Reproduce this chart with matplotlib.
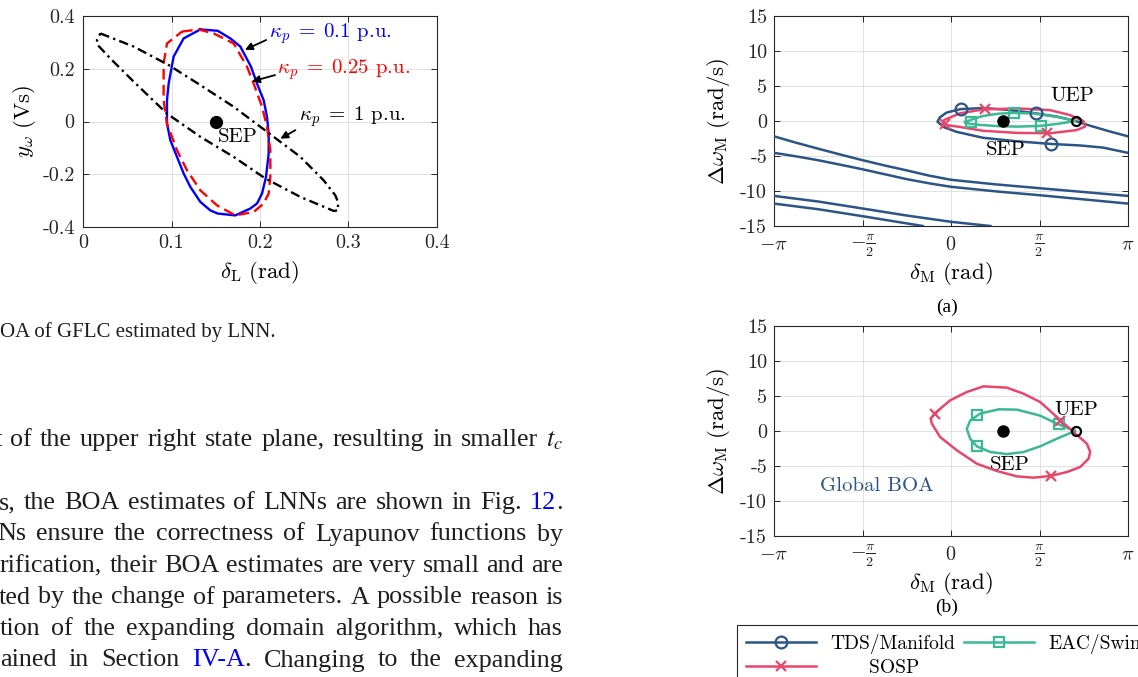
import numpy as np
import matplotlib
matplotlib.use("Agg")
import matplotlib.pyplot as plt
from matplotlib.lines import Line2D
from matplotlib.transforms import IdentityTransform

plt.rcParams["font.family"] = "cmr10"
plt.rcParams["mathtext.fontset"] = "cm"
plt.rcParams["axes.unicode_minus"] = False
plt.rcParams["axes.formatter.use_mathtext"] = True

W, H = 1138, 677
fig = plt.figure(figsize=(W / 100, H / 100), dpi=100)

# ----------------------------------------------------------------------------
# Data: BOA of the GFLC estimated by LNN for three kappa_p values
# ----------------------------------------------------------------------------
kp01_delta = [0.1326, 0.1522, 0.1665, 0.1778, 0.1898, 0.1966, 0.2041, 0.2079, 0.2098,
              0.2098, 0.2068, 0.2023, 0.1966, 0.1890, 0.1721, 0.1522, 0.1439, 0.1326,
              0.1213, 0.1137, 0.1062, 0.0987, 0.0949, 0.0949, 0.0968, 0.1024, 0.1137, 0.1326]
kp01_y = [0.349, 0.344, 0.315, 0.284, 0.208, 0.144, 0.081, 0.018, -0.046,
          -0.122, -0.210, -0.273, -0.311, -0.330, -0.356, -0.349, -0.337, -0.305,
          -0.248, -0.197, -0.134, -0.071, -0.008, 0.081, 0.144, 0.246, 0.315, 0.349]

kp025_delta = [0.1119, 0.1307, 0.1476, 0.1702, 0.1853, 0.1928, 0.2023, 0.2079, 0.2117,
               0.2117, 0.2098, 0.2041, 0.1928, 0.1721, 0.1514, 0.1326, 0.1175, 0.1062,
               0.0949, 0.0911, 0.0911, 0.0949, 0.1119]
kp025_y = [0.341, 0.349, 0.334, 0.296, 0.208, 0.144, 0.056, -0.020, -0.109,
           -0.210, -0.273, -0.311, -0.343, -0.356, -0.318, -0.261, -0.185, -0.109,
           -0.008, 0.081, 0.220, 0.296, 0.341]

kp1_delta = [0.0196, 0.0573, 0.0968, 0.1326, 0.1702, 0.2079, 0.2456, 0.2719, 0.2851,
             0.2881, 0.2881, 0.2832, 0.2456, 0.2060, 0.1702, 0.1326, 0.0949, 0.0573,
             0.0309, 0.0166, 0.0158, 0.0196]
kp1_y = [0.334, 0.284, 0.214, 0.138, 0.056, -0.039, -0.134, -0.223, -0.280,
         -0.305, -0.337, -0.339, -0.286, -0.216, -0.134, -0.058, 0.030, 0.151,
         0.239, 0.290, 0.309, 0.334]

sep_gflc = (0.15, 0.0)

# ----------------------------------------------------------------------------
# Data: SMIB phase plane, (a) and (b)
# ----------------------------------------------------------------------------
PI = np.pi
sep_m = (0.93, 0.0)
uep_m = (2.21, 0.0)

# (a) stable manifold of the UEP (TDS/Manifold), wrapped on [-pi, pi]
tds_loop_x = [PI, 2.8, 2.5, 2.21, 1.9, 1.5, 1.0, 0.58, 0.17, -0.08, -0.2, -0.24,
              -0.12, 0.1, 0.57, 1.17, 1.78, 2.3, 2.7, PI]
tds_loop_y = [-2.19, -1.45, -0.75, 0.0, 0.6, 1.1, 1.6, 1.85, 1.7, 1.2, 0.5, -0.1,
              -0.9, -1.55, -2.4, -2.9, -3.28, -3.5, -3.8, -4.55]
tds_w1_x = [-PI, -2.75, -2.36, -1.96, -1.57, -1.18, -0.79, -0.39, 0.0, 0.79, 1.57, 2.36, PI]
tds_w1_y = [-2.19, -3.1, -3.95, -4.8, -5.6, -6.35, -7.05, -7.8, -8.4, -9.05, -9.6, -10.15, -10.7]
tds_w2_x = [-PI, -2.75, -2.36, -1.96, -1.57, -1.18, -0.79, -0.39, 0.0, 0.79, 1.57, 2.36, PI]
tds_w2_y = [-4.55, -5.05, -5.6, -6.25, -6.9, -7.6, -8.3, -8.9, -9.4, -10.05, -10.6, -11.2, -11.8]
tds_w3_x = [-PI, -2.36, -1.57, -0.79, 0.0, 0.7]
tds_w3_y = [-10.7, -11.5, -12.5, -13.5, -14.4, -15.0]
tds_w4_x = [-PI, -2.36, -1.57, -0.5]
tds_w4_y = [-11.8, -12.6, -13.6, -15.0]
tds_mark_x = [0.17, 1.5, 1.78]
tds_mark_y = [1.7, 1.1, -3.28]

# (a) EAC/Swing estimate
eac_a_x = [0.25, 0.4, 0.57, 0.85, 1.1, 1.46, 1.93, 2.21, 1.9, 1.58, 1.2, 0.87, 0.5, 0.3, 0.25]
eac_a_y = [-0.15, 0.3, 0.72, 1.05, 1.15, 1.08, 0.52, 0.0, -0.4, -0.7, -0.8, -0.75, -0.55, -0.35, -0.15]
eac_a_mark_x = [0.36, 1.11, 1.59]
eac_a_mark_y = [-0.2, 1.12, -0.78]

# (a) SOSP estimate
sosp_a_x = [-0.15, -0.12, 0.16, 0.57, 1.17, 1.76, 2.11, 2.35, 2.38, 2.23, 1.76, 1.17, 0.57, 0.16, -0.15]
sosp_a_y = [-0.5, 0.15, 1.1, 1.65, 1.8, 1.55, 0.85, 0.0, -0.8, -1.3, -1.75, -1.7, -1.4, -0.85, -0.5]
sosp_a_mark_x = [0.6, -0.1, 1.7]
sosp_a_mark_y = [1.78, -0.45, -1.78]

# (b) EAC/Swing estimate
eac_b_x = [2.2, 1.88, 1.58, 1.17, 0.85, 0.52, 0.34, 0.28, 0.34, 0.46, 0.7, 0.99, 1.29, 1.58, 1.88, 2.2]
eac_b_y = [0.0, 1.05, 2.2, 3.05, 3.1, 2.5, 1.5, 0.3, -1.1, -2.2, -3.0, -3.3, -3.0, -2.2, -1.1, 0.0]
eac_b_mark_x = [0.47, 0.47, 1.91]
eac_b_mark_y = [2.24, -2.19, 1.05]

# (b) SOSP estimate
sosp_b_x = [-0.294, -0.015, 0.28, 0.577, 0.991, 1.287, 1.583, 1.879, 2.175, 2.412, 2.471,
            2.442, 2.294, 2.057, 1.761, 1.465, 1.169, 0.813, 0.458, 0.103, -0.193,
            -0.341, -0.358, -0.294]
sosp_b_y = [2.48, 4.38, 5.57, 6.38, 6.19, 5.33, 4.14, 2.0, -0.14, -1.81, -3.0,
            -3.95, -5.14, -5.86, -6.43, -6.67, -6.48, -5.71, -4.67, -2.76, -0.86,
            1.05, 1.76, 2.48]
sosp_b_mark_x = [-0.29, 1.93, 1.78]
sosp_b_mark_y = [2.48, 1.4, -6.43]

C_TDS = "#2c5487"
C_EAC = "#3bb994"
C_SOSP = "#e8476d"
AX_COL = "#262626"


def px_axes(left, top, right, bottom):
    return fig.add_axes([left / W, 1 - bottom / H, (right - left) / W, (bottom - top) / H])


def style(ax):
    ax.tick_params(direction="in", top=True, right=True, length=4.5, width=0.7,
                   color=AX_COL, labelsize=14.5, labelcolor=AX_COL)
    for s in ax.spines.values():
        s.set_color(AX_COL)
        s.set_linewidth(0.8)
    ax.grid(True, color="#dcdcdc", lw=0.6)
    ax.set_axisbelow(True)


# ----------------------------------------------------------------------------
# Left: GFLC BOA
# ----------------------------------------------------------------------------
ax0 = px_axes(83, 16, 437, 227)
style(ax0)
ax0.plot(kp01_delta, kp01_y, color="#0000ff", lw=1.7, zorder=3)
ax0.plot(kp025_delta, kp025_y, color="#ff0000", lw=1.7, ls=(0, (4.5, 2.3)), zorder=3)
ax0.plot(kp1_delta, kp1_y, color="k", lw=1.7, ls=(0, (4.0, 1.8, 1.0, 1.8)), zorder=3)
ax0.plot(*sep_gflc, "o", color="k", ms=8.5, zorder=4)
ax0.text(0.152, -0.058, "SEP", fontsize=15, va="center", ha="left")
ax0.set_xlim(0, 0.4)
ax0.set_ylim(-0.4, 0.4)
ax0.set_xticks([0, 0.1, 0.2, 0.3, 0.4])
ax0.set_xticklabels(["0", "0.1", "0.2", "0.3", "0.4"])
ax0.set_yticks([-0.4, -0.2, 0, 0.2, 0.4])
ax0.set_yticklabels(["-0.4", "-0.2", "0", "0.2", "0.4"])
ax0.tick_params(axis="x", pad=5)
ax0.tick_params(axis="y", pad=6)
ax0.set_xlabel(r"$\delta_{\mathrm{L}}\ \mathrm{(rad)}$", fontsize=16.5, va="center")
ax0.xaxis.set_label_coords(0.5, -0.215)
ax0.set_ylabel(r"$y_{\omega}\ \mathrm{(Vs)}$", fontsize=16.5, va="center")
ax0.yaxis.set_label_coords(-0.165, 0.5)

labels_kp = [
    (r"$\kappa_p\;=\;0.1$ p.u.", "#0000ff", (0.2098, 0.334), (0.207, 0.309), (0.183, 0.272)),
    (r"$\kappa_p\;=\;0.25$ p.u.", "#ff0000", (0.219, 0.195), (0.217, 0.176), (0.191, 0.152)),
    (r"$\kappa_p\;=\;1$ p.u.", "k", (0.2437, 0.018), (0.240, -0.033), (0.223, -0.065)),
]
for txt, col, pos, tail, head in labels_kp:
    ax0.text(pos[0], pos[1], txt, color=col, fontsize=15, va="center", ha="left")
    ax0.annotate("", xy=head, xytext=tail,
                 arrowprops=dict(arrowstyle="-|>", color="k", lw=1.3,
                                 mutation_scale=11, shrinkA=0, shrinkB=0))


# ----------------------------------------------------------------------------
# Right: SMIB phase planes
# ----------------------------------------------------------------------------
def phase_axes(top, bottom):
    ax = px_axes(774, top, 1128, bottom)
    style(ax)
    ax.set_xlim(-PI, PI)
    ax.set_ylim(-15, 15)
    ax.set_xticks([-PI, -PI / 2, 0, PI / 2, PI])
    ax.set_xticklabels([r"$-\pi$", r"$-\frac{\pi}{2}$", r"$0$", r"$\frac{\pi}{2}$", r"$\pi$"])
    for lab in ax.get_xticklabels():
        lab.set_va("center")
    ax.tick_params(axis="x", pad=14)
    ax.set_yticks([-15, -10, -5, 0, 5, 10, 15])
    ax.set_yticklabels(["-15", "-10", "-5", "0", "5", "10", "15"])
    ax.tick_params(axis="y", pad=5)
    ax.set_xlabel(r"$\delta_{\mathrm{M}}\ \mathrm{(rad)}$", fontsize=16.5, va="center")
    ax.xaxis.set_label_coords(0.5, -0.225)
    ax.set_ylabel(r"$\Delta\omega_{\mathrm{M}}\ \mathrm{(rad/s)}$", fontsize=16.5, va="center")
    ax.yaxis.set_label_coords(-0.158, 0.5)
    return ax


LW = 1.8
axa = phase_axes(16, 226)
for xs, ys in [(tds_loop_x, tds_loop_y), (tds_w1_x, tds_w1_y), (tds_w2_x, tds_w2_y),
               (tds_w3_x, tds_w3_y), (tds_w4_x, tds_w4_y)]:
    axa.plot(xs, ys, color=C_TDS, lw=LW, zorder=3)
axa.plot(tds_mark_x, tds_mark_y, "o", mfc="none", mec=C_TDS, ms=8.5, mew=1.6, zorder=5)
axa.plot(eac_a_x, eac_a_y, color=C_EAC, lw=LW, zorder=3)
axa.plot(eac_a_mark_x, eac_a_mark_y, "s", mfc="none", mec=C_EAC, ms=7.5, mew=1.6, zorder=5)
axa.plot(sosp_a_x, sosp_a_y, color=C_SOSP, lw=LW, zorder=4)
axa.plot(sosp_a_mark_x, sosp_a_mark_y, "x", color=C_SOSP, ms=7.5, mew=1.6, zorder=5)
axa.plot(*sep_m, "o", color="k", ms=8, zorder=6)
axa.plot(*uep_m, "o", mfc="none", mec="k", ms=6.5, mew=1.6, zorder=6)
axa.text(0.62, -4.1, "SEP", fontsize=15, va="center", ha="left")
axa.text(1.77, 3.5, "UEP", fontsize=15, va="center", ha="left")

axb = phase_axes(326, 536)
axb.plot(eac_b_x, eac_b_y, color=C_EAC, lw=LW, zorder=3)
axb.plot(eac_b_mark_x, eac_b_mark_y, "s", mfc="none", mec=C_EAC, ms=7.5, mew=1.6, zorder=5)
axb.plot(sosp_b_x, sosp_b_y, color=C_SOSP, lw=LW, zorder=4)
axb.plot(sosp_b_mark_x, sosp_b_mark_y, "x", color=C_SOSP, ms=7.5, mew=1.6, zorder=5)
axb.plot(*sep_m, "o", color="k", ms=8, zorder=6)
axb.plot(*uep_m, "o", mfc="none", mec="k", ms=6.5, mew=1.6, zorder=6)
axb.text(0.69, -4.85, "SEP", fontsize=15, va="center", ha="left")
axb.text(1.84, 3.0, "UEP", fontsize=15, va="center", ha="left")
axb.text(-2.33, -7.85, "Global BOA", fontsize=15, va="center", ha="left", color=C_TDS)

SERIF = "Liberation Serif"
px = IdentityTransform()
fig.text(947, H - 307, "(a)", transform=px, fontsize=14, family=SERIF, ha="center", va="center")
fig.text(947, H - 607, "(b)", transform=px, fontsize=14, family=SERIF, ha="center", va="center")

handles = [
    Line2D([], [], color=C_TDS, lw=LW, marker="o", mfc="none", mec=C_TDS, ms=8.5, mew=1.6),
    Line2D([], [], color=C_SOSP, lw=LW, marker="x", ms=7.5, mew=1.6),
    Line2D([], [], color=C_EAC, lw=LW, marker="s", mfc="none", mec=C_EAC, ms=7.5, mew=1.6),
]
leg = fig.legend(handles, ["TDS/Manifold", "      SOSP", "EAC/Swing"], ncol=2,
                 loc="upper left", bbox_to_anchor=(737 / W, 1 - 625 / H),
                 frameon=True, fancybox=False, edgecolor=AX_COL, framealpha=1,
                 borderaxespad=0, fontsize=14, handlelength=3.6, handletextpad=0.75,
                 columnspacing=0.45, borderpad=0.45, labelspacing=0.28)
leg.get_frame().set_linewidth(0.8)

# ----------------------------------------------------------------------------
# Surrounding page text
# ----------------------------------------------------------------------------
BODY = "#1e1e1e"
LINK = "#0000ff"
renderer = fig.canvas.get_renderer()


def justified(baseline, words, x0, x1, size=18.8):
    pieces = []
    widths = []
    for word in words:
        segs = []
        total = 0.0
        for s, c in word:
            t = fig.text(0, 0, s, transform=px, fontsize=size, family=SERIF, color=c,
                         math_fontfamily="stix", va="baseline", ha="left")
            w = t.get_window_extent(renderer).width
            segs.append((t, w))
            total += w
        pieces.append(segs)
        widths.append(total)
    gap = (x1 - x0 - sum(widths)) / (len(words) - 1)
    x = x0
    for segs, wsum in zip(pieces, widths):
        xx = x
        for t, w in segs:
            t.set_position((xx, H - baseline))
            xx += w
        x += wsum + gap


def words_of(text, colors=None):
    colors = colors or {}
    out = []
    for w in text.split(" "):
        if w in colors:
            out.append(colors[w])
        else:
            out.append([(w, BODY)])
    return out


fig.text(0, H - 337, "OA of GFLC estimated by LNN.", transform=px, fontsize=15,
         family=SERIF, color=BODY, va="baseline", ha="left")

body_lines = [
    (446, "t of the upper right state plane, resulting in smaller $t_c$", {}, -5.5),
    (509, "s, the BOA estimates of LNNs are shown in Fig. 12.",
     {"12.": [("12", LINK), (".", BODY)]}, -1),
    (540.5, "Ns ensure the correctness of Lyapunov functions by", {}, -3),
    (572, "rification, their BOA estimates are very small and are", {}, 0),
    (603.5, "ted by the change of parameters. A possible reason is", {}, -1),
    (635, "tion of the expanding domain algorithm, which has", {}, 0),
    (666.5, "ained in Section IV-A. Changing to the expanding",
     {"IV-A.": [("IV-A", LINK), (".", BODY)]}, 0),
]
for base, text, cols, x0 in body_lines:
    justified(base, words_of(text, cols), x0, 563)

fig.savefig("out.png", dpi=100)
